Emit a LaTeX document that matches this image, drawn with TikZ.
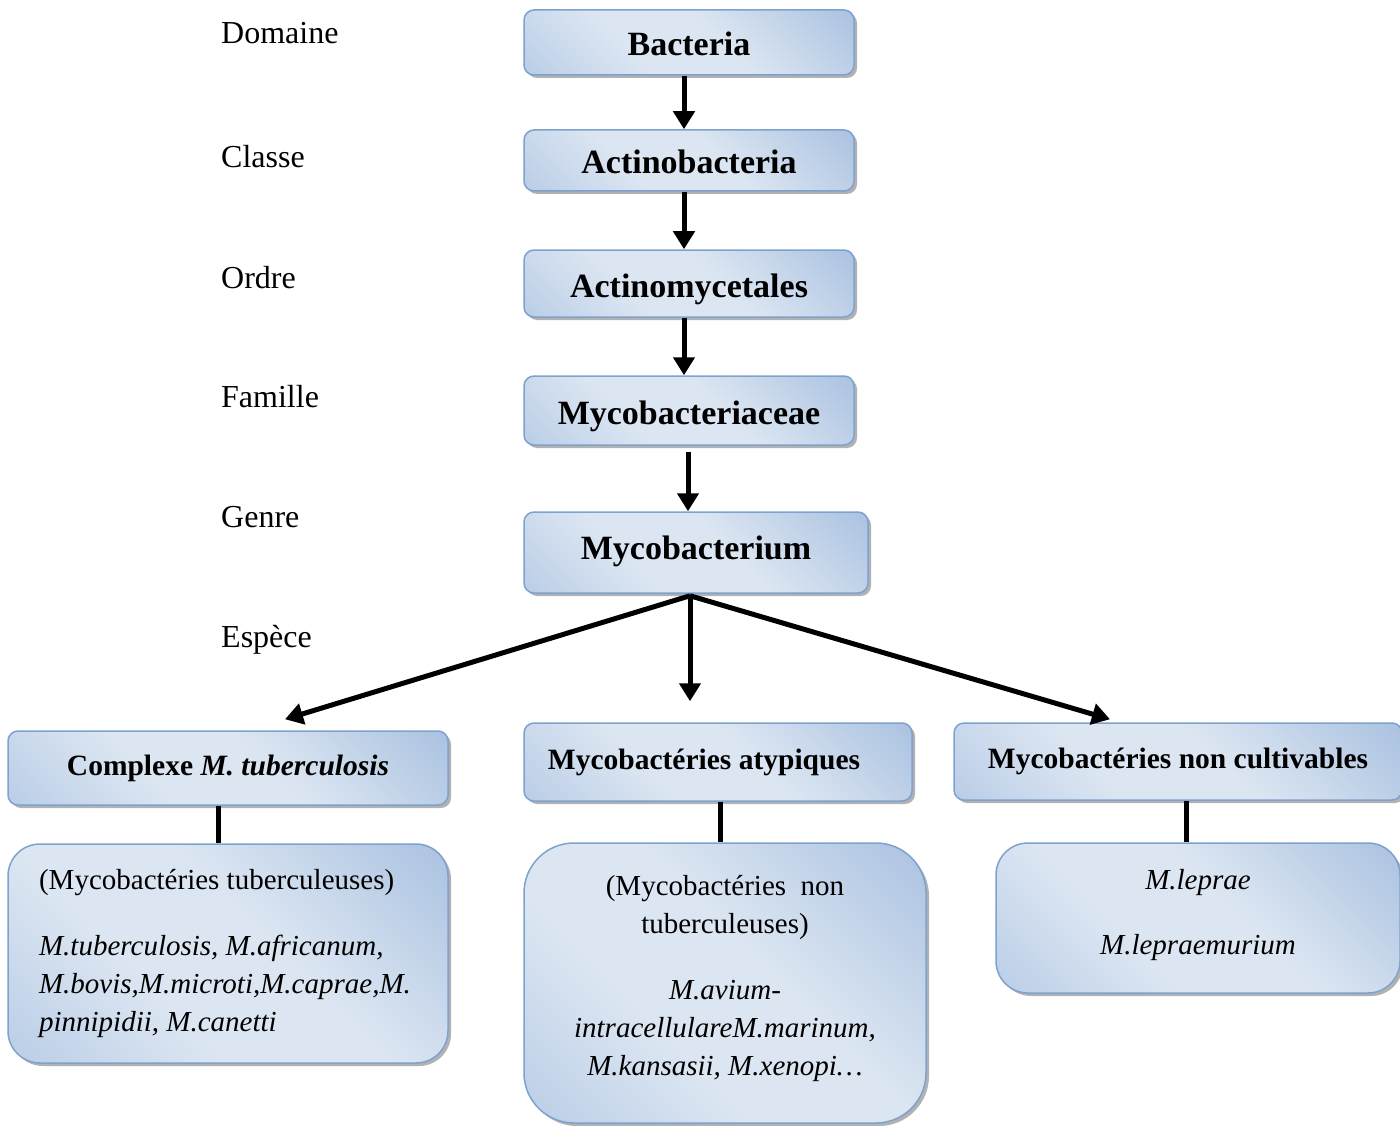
\documentclass[tikz,border=0pt]{standalone}
\usepackage{fontspec}
\setmainfont{Liberation Serif}
\usetikzlibrary{arrows.meta,shadows,calc}
\definecolor{bdark}{HTML}{92B0D8}
\definecolor{bmid}{HTML}{A5BEE0}
\definecolor{blight}{HTML}{DCE6F2}
\definecolor{bline}{HTML}{7EA2CE}
\pgfdeclarehorizontalshading{boxshade}{100bp}{color(0bp)=(bmid); color(38bp)=(blight); color(56bp)=(blight); color(100bp)=(bdark)}
\tikzset{
  box/.style={draw=bline, line width=1.5pt, shading=boxshade, shading angle=45,
    drop shadow={shadow xshift=3pt, shadow yshift=-3pt, fill=gray!60, opacity=1},
    inner sep=0pt},
  topbox/.style={box, rounded corners=10pt, text height=27pt, text depth=0pt, font=\fontsize{34}{40}\selectfont\bfseries},
  headbox/.style={box, rounded corners=10pt, font=\fontsize{29.5}{34}\selectfont\bfseries},
  bodybox/.style={box, font=\fontsize{29}{38}\selectfont},
  bodytxt/.style={inner sep=0pt, font=\fontsize{29}{38}\selectfont},
  lbl/.style={anchor=base west, inner sep=0pt, font=\fontsize{32}{38}\selectfont},
  arr/.style={line width=5pt, -{Triangle[length=18pt,width=21pt]}},
  conn/.style={line width=5pt},
}
\begin{document}
\begin{tikzpicture}[x=1pt,y=-1pt]
\useasboundingbox (0,0) rectangle (1400,1126);
% rank labels
\node[lbl] (ldom) at (221,44) {Domaine};
\node[lbl] (lcla) at (221,168) {Classe};
\node[lbl] (lord) at (221,288) {Ordre};
\node[lbl] (lfam) at (221,407) {Famille};
\node[lbl] (lgen) at (221,527) {Genre};
\node[lbl] (lesp) at (221,647) {Espèce};
% main chain
\node[topbox, minimum width=330pt, minimum height=65pt] (bact) at (689,42.5) {Bacteria};
\node[topbox, minimum width=330pt, minimum height=61pt] (actino) at (689,160.5) {Actinobacteria};
\node[topbox, minimum width=330pt, minimum height=67pt] (actmy) at (689,283.5) {Actinomycetales};
\node[topbox, minimum width=330pt, minimum height=69pt] (mfam) at (689,410.5) {Mycobacteriaceae};
\node[topbox, text height=23pt, text depth=9pt, minimum width=344pt, minimum height=81pt] (myco) at (696,552.5) {Mycobacterium};
% groups
\node[headbox, minimum width=440pt, minimum height=74pt] (cmplx) at (228,768) {Complexe \textit{M. tuberculosis}};
\node[headbox, minimum width=388pt, minimum height=78pt] (atyp) at (718,762) {Mycobactéries atypiques\hspace*{28pt}};
\node[headbox, minimum width=448pt, minimum height=77pt] (ncult) at (1178,761.5) {Mycobactéries non cultivables};
% species boxes
\node[bodybox, rounded corners=32pt, minimum width=440pt, minimum height=219pt, align=left] (tbl) at (228,953.5)
  {\hspace*{-6pt}(Mycobactéries tuberculeuses)\\[28pt]\hspace*{-6pt}\textit{M.tuberculosis, M.africanum,}\\\hspace*{-6pt}\textit{M.bovis,M.microti,M.caprae,M.}\\\hspace*{-6pt}\textit{pinnipidii, M.canetti}};
\node[bodybox, rounded corners=50pt, minimum width=402pt, minimum height=280pt] (ntb) at (725,983) {};
\node[bodytxt, align=center] (ntbtxt) at (725,978)
  {(Mycobactéries\ \ non\\tuberculeuses)\\[28pt]\textit{M.avium-}\\\textit{intracellulareM.marinum,}\\\textit{M.kansasii, M.xenopi\ldots}};
\node[bodybox, rounded corners=32pt, minimum width=404pt, minimum height=150pt] (lep) at (1198,918) {};
\node[bodytxt, align=center] (leptxt) at (1198,915)
  {\textit{M.leprae}\\[27pt]\textit{M.lepraemurium}};
% connectors
\draw[arr] ([xshift=-5pt]bact.south) -- ([xshift=-5pt]actino.north);
\draw[arr] ([xshift=-5pt]actino.south) -- ([xshift=-5pt]actmy.north);
\draw[arr] ([xshift=-5pt]actmy.south) -- ([xshift=-5pt]mfam.north);
\draw[arr] ([xshift=-1pt,yshift=-6pt]mfam.south) -- ([xshift=-8pt]myco.north);
\coordinate (fork) at ([xshift=-6pt,yshift=-2pt]myco.south);
\draw[arr] (fork) -- ([xshift=57pt,yshift=11pt]cmplx.north);
\draw[arr] (fork) -- ([xshift=-28pt,yshift=21pt]atyp.north);
\draw[arr] (fork) -- ([xshift=-68pt,yshift=3pt]ncult.north);
\draw[conn] ([xshift=-10pt]cmplx.south) -- ([xshift=-10pt]cmplx.south |- tbl.north);
\draw[conn] ([xshift=2pt]atyp.south) -- ([xshift=2pt]atyp.south |- ntb.north);
\draw[conn] ([xshift=8pt]ncult.south) -- ([xshift=8pt]ncult.south |- lep.north);
\end{tikzpicture}
\end{document}
